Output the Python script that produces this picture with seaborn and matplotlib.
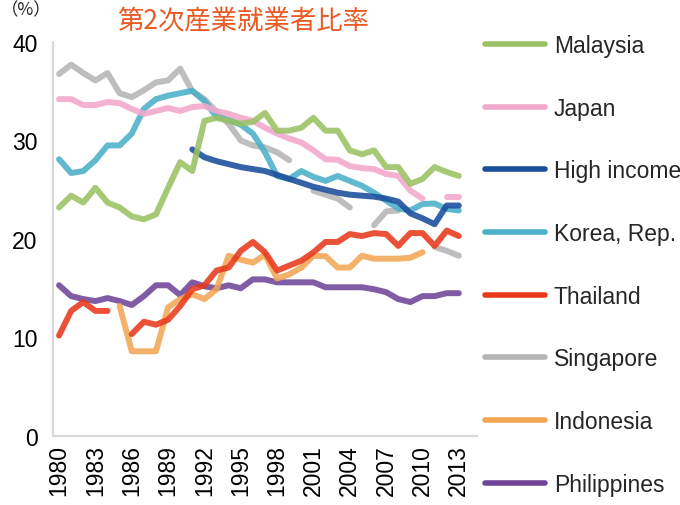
import numpy as np
import pandas as pd
import matplotlib
matplotlib.use("Agg")
import matplotlib.pyplot as plt
from matplotlib.lines import Line2D
import seaborn as sns

nan = np.nan
years = list(range(1980, 2014))

malaysia = [23.2, 24.4, 23.7, 25.2, 23.7, 23.2, 22.3, 22.0, 22.5, 25.2,
            27.8, 26.9, 32.0, 32.3, 32.0, 31.7, 31.9, 32.8, 31.0, 31.0,
            31.3, 32.3, 31.0, 31.0, 29.0, 28.6, 29.0, 27.3, 27.3, 25.6,
            26.1, 27.3, 26.8, 26.4]
japan = [34.2, 34.2, 33.6, 33.6, 33.9, 33.8, 33.2, 32.7, 33.0, 33.3,
         33.0, 33.4, 33.5, 33.0, 32.7, 32.3, 32.0, 31.3, 30.7, 30.2,
         29.8, 29.0, 28.1, 28.05, 27.4, 27.2, 27.1, 26.6, 26.4, 24.9,
         24.1, nan, 24.3, 24.3]
high_income = [nan, nan, nan, nan, nan, nan, nan, nan, nan, nan,
               nan, 29.1, 28.3, 27.9, 27.6, 27.3, 27.1, 26.9, 26.5, 26.1,
               25.7, 25.3, 25.0, 24.7, 24.5, 24.4, 24.3, 24.1, 23.8, 22.6,
               22.1, 21.5, 23.4, 23.4]
korea = [28.1, 26.7, 26.9, 28.0, 29.5, 29.5, 30.7, 33.2, 34.2, 34.55,
         34.8, 35.05, 34.0, 32.4, 32.1, 31.6, 30.7, 28.8, 26.4, 26.1,
         26.9, 26.3, 25.9, 26.4, 25.9, 25.4, 24.7, 23.9, 23.1, 22.9,
         23.55, 23.6, 23.05, 22.9]
thailand = [10.2, 12.7, 13.6, 12.7, 12.7, nan, 10.35, 11.6, 11.3, 11.8,
            13.2, 14.9, 15.3, 16.8, 17.1, 18.8, 19.7, 18.65, 16.8, 17.3,
            17.8, 18.65, 19.7, 19.7, 20.5, 20.3, 20.6, 20.5, 19.3, 20.6,
            20.6, 19.3, 20.85, 20.3]
singapore = [36.75, 37.7, 36.85, 36.1, 36.85, 34.8, 34.4, 35.1, 35.9, 36.1,
             37.3, 35.0, 34.2, 32.9, 31.7, 30.0, 29.5, 29.3, 28.8, 28.0,
             nan, 24.9, 24.5, 24.1, 23.2, nan, 21.4, 22.8, 22.9, nan,
             nan, 19.2, 18.8, 18.3]
indonesia = [nan, nan, nan, nan, nan, 13.2, 8.6, 8.6, 8.6, 13.05,
             13.9, 14.4, 13.9, 14.9, 18.3, 17.9, 17.6, 18.4, 16.0, 16.4,
             17.1, 18.3, 18.25, 17.1, 17.1, 18.3, 18.0, 18.0, 18.0, 18.1,
             18.65, nan, nan, nan]
philippines = [15.3, 14.2, 13.9, 13.7, 14.0, 13.7, 13.3, 14.2, 15.3, 15.3,
               14.3, 15.6, 15.2, 15.0, 15.3, 15.0, 15.9, 15.9, 15.6, 15.6,
               15.6, 15.6, 15.1, 15.1, 15.1, 15.1, 14.9, 14.6, 13.9, 13.6,
               14.2, 14.2, 14.5, 14.5]

countries = ["Malaysia", "Japan", "High income", "Korea, Rep.", "Thailand",
             "Singapore", "Indonesia", "Philippines"]
values = [malaysia, japan, high_income, korea, thailand, singapore,
          indonesia, philippines]
colors = ["#9BC263", "#F2A8CB", "#1A4C9C", "#4AB0C8", "#E8391B",
          "#B5B5B5", "#F3A654", "#6E4598"]
palette = dict(zip(countries, colors))

# long table, split each series where values are missing so gaps stay open
rows = []
for name, vals in zip(countries, values):
    seg = 0
    gap = True
    for yr, v in zip(years, vals):
        if np.isnan(v):
            gap = True
            continue
        if gap:
            seg += 1
            gap = False
        rows.append((name, seg, yr, v))
df = pd.DataFrame(rows, columns=["country", "seg", "year", "value"])

sns.set_style("white")
plt.rcParams["font.family"] = ["Liberation Sans", "Noto Sans CJK JP", "DejaVu Sans"]

fig = plt.figure(figsize=(6.8, 5.06), dpi=100)
ax = fig.add_axes([53 / 680, 1 - 437 / 506, 424 / 680, 394 / 506])

sns.lineplot(data=df, x="year", y="value", hue="country", units="seg",
             estimator=None, hue_order=countries[::-1], palette=palette,
             linewidth=4.3, alpha=0.88, legend=False, ax=ax,
             solid_capstyle="round", solid_joinstyle="round")

ax.set_xlim(1979.5, 2014.5)
ax.set_ylim(0, 40)
ax.set_xticks(range(1980, 2014, 3))
ax.set_xticklabels([str(y) for y in range(1980, 2014, 3)], rotation=90)
ax.set_yticks([0, 10, 20, 30, 40])
ax.set_xlabel("")
ax.set_ylabel("")
ax.tick_params(axis="both", length=0, labelsize=16.5, colors="black")
ax.tick_params(axis="y", pad=11)
ax.tick_params(axis="x", pad=6)
for s in ["top", "right"]:
    ax.spines[s].set_visible(False)
for s in ["left", "bottom"]:
    ax.spines[s].set_color("#D9D9D9")
    ax.spines[s].set_linewidth(1.6)

handles = [Line2D([], [], color=c, lw=4, solid_capstyle="round") for c in colors]
fig.legend(handles, countries, loc="upper left",
           bbox_to_anchor=(485 / 680, 1 - 35 / 506), frameon=False,
           fontsize=16.5, handlelength=2.6, handletextpad=0.4,
           labelspacing=1.73, borderpad=0, borderaxespad=0)

fig.text(243 / 680, 1 - 22 / 506, "第2次産業就業者比率", ha="center", va="center",
         color="#EA5A25", fontsize=19, family=["Noto Sans CJK JP"])
fig.text(0.002, 1 - 10 / 506, "（%）", ha="left", va="center",
         fontsize=12.5, family=["Noto Sans CJK JP"])

fig.savefig("out.png", dpi=100)
